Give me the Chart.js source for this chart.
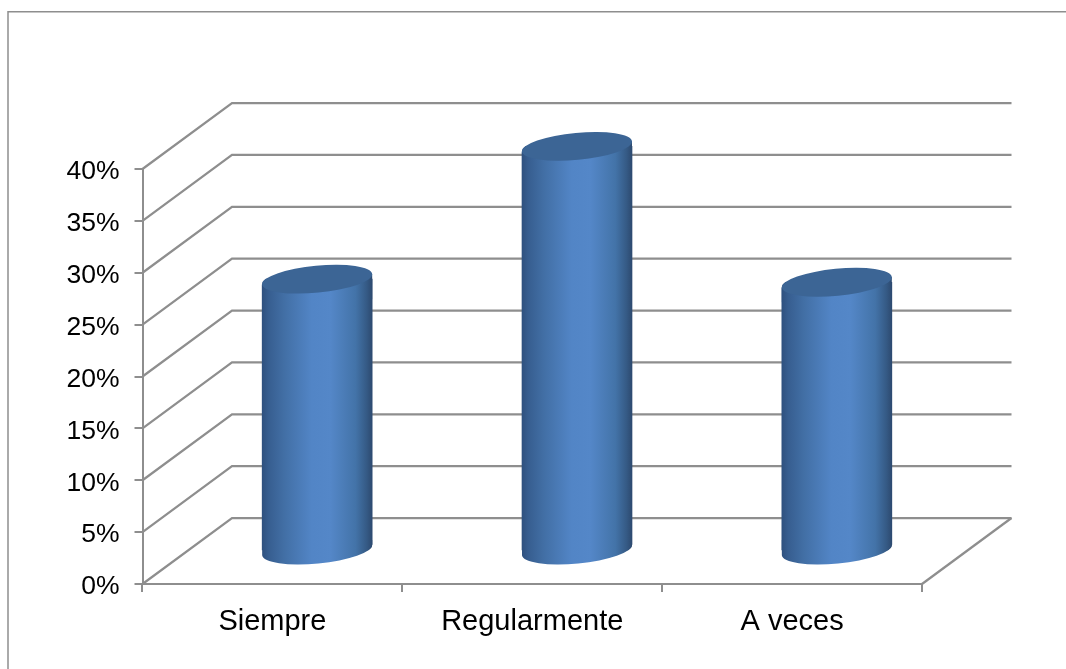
<!DOCTYPE html>
<html>
<head>
<meta charset="utf-8">
<style>
  html, body { margin: 0; padding: 0; background: #fff; overflow: hidden; }
  canvas { display: block; }
</style>
<script src="https://cdn.jsdelivr.net/npm/chart.js@4"></script>
</head>
<body>
<canvas id="chart" width="1066" height="669"></canvas>
<script>
const categories = ['Siempre', 'Regularmente', 'A veces'];
const values = [26.2, 39, 25.9];
const yMax = 40;
const yStep = 5;

// fake 3d look
const DEPTH_X = 89.5;
const DEPTH_Y = 66;
const GRID = '#8e8e8e';
const TOP_COLOR = '#3c6595';
const ELL_RY = 13.5;
const ELL_TILT = -0.095;

function wallGradient(c, cx, r) {
  const g = c.createLinearGradient(cx - r, 0, cx + r, 0);
  g.addColorStop(0, '#2f517f');
  g.addColorStop(0.06, '#375e90');
  g.addColorStop(0.2, '#426fa5');
  g.addColorStop(0.45, '#5285c6');
  g.addColorStop(0.62, '#5487c8');
  g.addColorStop(0.85, '#4373a8');
  g.addColorStop(0.95, '#355a85');
  g.addColorStop(1, '#2d4a70');
  return g;
}

const frame = {
  id: 'frame',
  beforeDraw(chart) {
    const c = chart.ctx;
    c.save();
    c.strokeStyle = GRID;
    c.lineWidth = 1.5;
    c.beginPath();
    c.moveTo(8, 669);
    c.lineTo(8, 11.75);
    c.lineTo(1066, 11.75);
    c.stroke();
    c.restore();
  }
};

// back wall and side wall lines, from the y scale
const walls = {
  id: 'walls',
  beforeDatasetsDraw(chart) {
    const c = chart.ctx;
    const { x: xs, y: ys } = chart.scales;
    c.save();
    c.strokeStyle = GRID;
    c.lineWidth = 2.25;
    ys.ticks.forEach(t => {
      const y = ys.getPixelForValue(t.value);
      c.beginPath();
      c.moveTo(xs.left, y);
      c.lineTo(xs.left + DEPTH_X, y - DEPTH_Y);
      c.lineTo(xs.right + DEPTH_X, y - DEPTH_Y);
      c.stroke();
    });
    const y0 = ys.getPixelForValue(0);
    c.beginPath();
    c.moveTo(xs.right, y0);
    c.lineTo(xs.right + DEPTH_X, y0 - DEPTH_Y);
    c.stroke();
    c.restore();
  }
};

// a tilted ellipse is a bit narrower than its radius, so widen it to the bar
const ellRadius = b => b.width / 2 + 0.25;

// bars are shifted to mid depth and cut to a cylinder shape.
// one clip per bar: a shared clip path left seams across the tall bar
const cylinders = {
  id: 'cylinders',
  beforeDatasetDraw(chart) {
    const c = chart.ctx;
    chart.getDatasetMeta(0).data.forEach(b => {
      const r = ellRadius(b);
      const w = b.width / 2;
      const sag = r * Math.sin(-ELL_TILT);

      c.save();
      c.translate(DEPTH_X / 2, -DEPTH_Y / 2);

      c.save();
      c.beginPath();
      c.ellipse(b.x, b.y, r, ELL_RY, ELL_TILT, Math.PI, 2 * Math.PI);
      c.lineTo(b.x + r + 1, b.y - sag);
      c.lineTo(b.x + r + 1, b.base - sag);
      c.ellipse(b.x, b.base, r, ELL_RY, ELL_TILT, 0, Math.PI);
      c.lineTo(b.x - r - 1, b.base + sag);
      c.lineTo(b.x - r - 1, b.y + sag);
      c.closePath();
      c.clip();
      b.draw(c);
      c.restore();

      // lower cap, and the wedge under the right end of the top
      c.fillStyle = wallGradient(c, b.x, 55);
      c.beginPath();
      c.moveTo(b.x - w, b.base - 10);
      c.lineTo(b.x + w, b.base - 10);
      c.lineTo(b.x + w, b.base - sag);
      c.ellipse(b.x, b.base, r, ELL_RY, ELL_TILT, 0, Math.PI);
      c.lineTo(b.x - w, b.base + sag);
      c.closePath();
      c.fill();
      c.beginPath();
      c.moveTo(b.x - w, b.y + sag);
      c.lineTo(b.x + w, b.y - sag);
      c.lineTo(b.x + w, b.y + 20);
      c.lineTo(b.x - w, b.y + 20);
      c.closePath();
      c.fill();

      c.fillStyle = TOP_COLOR;
      c.beginPath();
      c.ellipse(b.x, b.y, r, ELL_RY, ELL_TILT, 0, 2 * Math.PI);
      c.fill();
      c.restore();
    });
    return false;
  }
};

new Chart(document.getElementById('chart'), {
  type: 'bar',
  data: {
    labels: categories,
    datasets: [{
      data: values,
      barThickness: 110,
      clip: false,
      backgroundColor: ctx => {
        // scale has no pixels yet on the first resolve
        const x = ctx.dataIndex === undefined ? NaN : ctx.chart.scales.x.getPixelForValue(ctx.dataIndex);
        return Number.isFinite(x) ? wallGradient(ctx.chart.ctx, x, 55) : '#4f81bd';
      }
    }]
  },
  plugins: [frame, walls, cylinders],
  options: {
    responsive: false,
    animation: false,
    devicePixelRatio: 1,
    layout: { padding: { top: 169, right: 144, left: 0, bottom: 0 } },
    plugins: { legend: { display: false }, tooltip: { enabled: false } },
    scales: {
      x: {
        afterFit: s => { s.height = 85; },
        border: { color: GRID, width: 2 },
        grid: { color: GRID, lineWidth: 2, drawOnChartArea: false, tickLength: 8 },
        ticks: { color: '#000', padding: 13, maxRotation: 0, font: { family: 'Liberation Sans', size: 29 } }
      },
      y: {
        min: 0,
        max: yMax,
        afterFit: s => { s.width = 142.5; },
        border: { color: GRID, width: 2 },
        grid: { color: GRID, lineWidth: 2, drawOnChartArea: false, tickLength: 8 },
        ticks: {
          stepSize: yStep,
          color: '#000',
          padding: 15,
          labelOffset: 3,
          font: { family: 'Liberation Sans', size: 26.5 },
          callback: v => v + '%'
        }
      }
    }
  }
});
</script>
</body>
</html>
